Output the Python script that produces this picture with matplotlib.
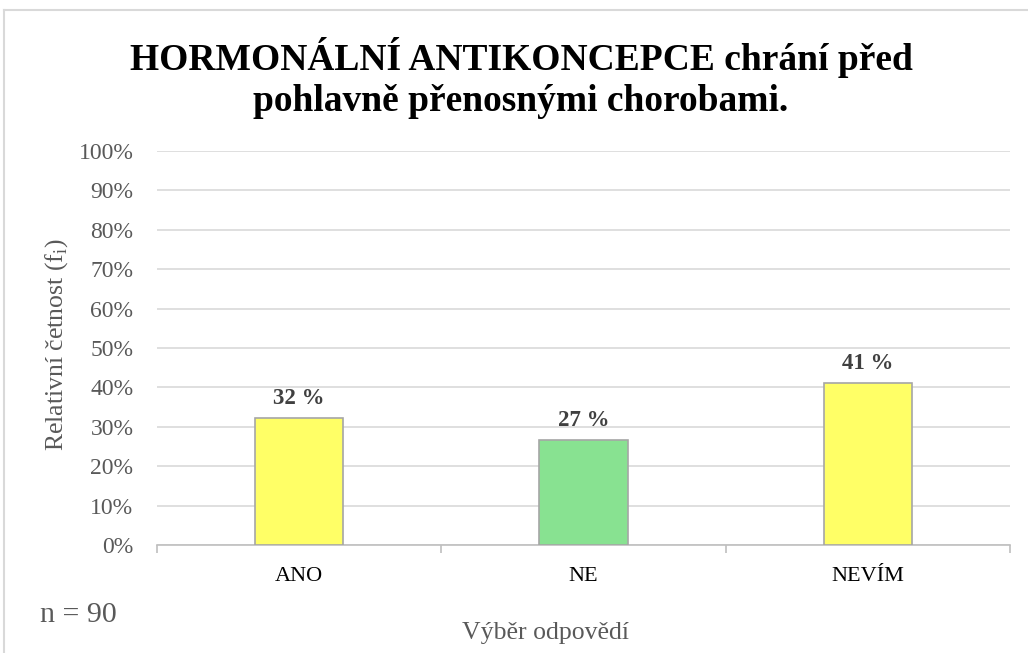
import matplotlib.pyplot as plt
from matplotlib.lines import Line2D
from matplotlib.ticker import FuncFormatter, FixedLocator
import numpy as np

plt.rcParams['font.family'] = ['Liberation Serif', 'DejaVu Serif']

categories = ["ANO", "NE", "NEVÍM"]
counts = [29, 24, 37]
n_total = 90
shares = [c / n_total * 100 for c in counts]
bar_colors = ["#FFFF66", "#88E291", "#FFFF66"]

title = "HORMONÁLNÍ ANTIKONCEPCE chrání před\npohlavně přenosnými chorobami."

fig = plt.figure(figsize=(10.28, 6.53), dpi=100)
ax = fig.add_axes([157 / 1028, 108 / 653, 853 / 1028, 394 / 653])

x = np.arange(len(categories))
bars = ax.bar(x, shares, width=0.31, color=bar_colors, edgecolor="#A6A6A6",
              linewidth=1.2, zorder=3)

for b, v in zip(bars, shares):
    ax.text(b.get_x() + b.get_width() / 2, v + 2.3, f"{v:.0f} %",
            ha="center", va="bottom", fontsize=16.5, fontweight="bold",
            color="#404040")

ax.set_xlim(-0.5, 2.5)
ax.set_ylim(0, 100)
ax.set_yticks(np.arange(0, 101, 10))
ax.yaxis.set_major_formatter(FuncFormatter(lambda v, p: f"{v:.0f}%"))
ax.grid(axis="y", color="#D9D9D9", linewidth=1.2, zorder=0)
ax.set_axisbelow(True)

ax.set_xticks(x)
ax.set_xticklabels(categories, fontsize=16, color="black")
ax.xaxis.set_minor_locator(FixedLocator([-0.5, 0.5, 1.5, 2.5]))
ax.tick_params(axis="x", which="major", length=0, pad=16)
ax.tick_params(axis="x", which="minor", length=6, color="#BFBFBF", width=1.2)
ax.tick_params(axis="y", length=0, labelsize=17, labelcolor="#595959", pad=17)

for s in ["top", "right", "left"]:
    ax.spines[s].set_visible(False)
ax.spines["bottom"].set_color("#BFBFBF")
ax.spines["bottom"].set_linewidth(1.2)

fig.text(521 / 1028, 1 - 78 / 653, title, ha="center", va="center",
         fontsize=27, fontweight="bold", color="black", linespacing=1.2)
fig.text(57 / 1028, 1 - 345 / 653, "Relativní četnost (f$_\\mathregular{i}$)",
         rotation=90, ha="center", va="center", fontsize=18.5, color="#595959")
fig.text(546 / 1028, 1 - 633 / 653, "Výběr odpovědí", ha="center",
         va="center", fontsize=18.5, color="#595959")
fig.text(40 / 1028, 1 - 615 / 653, f"n = {n_total}", ha="left",
         va="center", fontsize=21.5, color="#595959")

# chart border (top and left edge visible)
fig.add_artist(Line2D([4 / 1028, 1], [1 - 10 / 653] * 2,
                      transform=fig.transFigure, color="#D9D9D9", lw=1.5))
fig.add_artist(Line2D([4 / 1028] * 2, [0, 1 - 10 / 653],
                      transform=fig.transFigure, color="#D9D9D9", lw=1.5))

fig.savefig("out.png", dpi=100, facecolor="white")
